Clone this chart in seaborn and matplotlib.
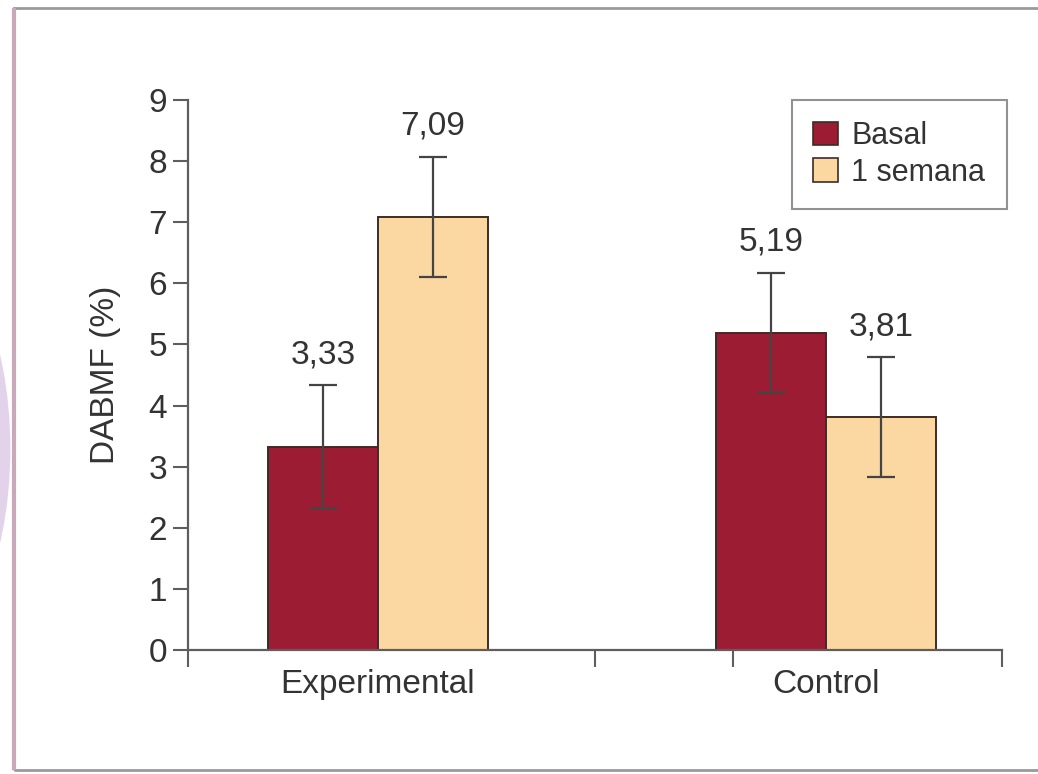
import matplotlib
matplotlib.use("Agg")
import matplotlib.pyplot as plt
from matplotlib.patches import Rectangle, Patch, Ellipse
import seaborn as sns
import pandas as pd

# Data
grupos = ["Experimental", "Control"]
periodos = ["Basal", "1 semana"]
basal = [3.33, 5.19]
semana = [7.09, 3.81]
err_basal = [1.0, 0.98]
err_semana = [0.98, 0.98]
etiquetas = {3.33: "3,33", 7.09: "7,09", 5.19: "5,19", 3.81: "3,81"}
yticks = list(range(0, 10))

df = pd.DataFrame({
    "grupo": grupos * 2,
    "periodo": [periodos[0]] * 2 + [periodos[1]] * 2,
    "valor": basal + semana,
    "err": err_basal + err_semana,
})

sns.set_theme(style="white")
FONT = ["Liberation Sans", "DejaVu Sans"]
plt.rcParams["font.family"] = FONT

TEXT = "#333333"
AXC = "#5e5e5e"
colores = ["#9c1d33", "#fbd8a2"]
borde = "#3d2c26"
FS = 24

fig = plt.figure(figsize=(10.38, 7.74), dpi=100)
fig.patch.set_facecolor("white")
ax = fig.add_axes([0.1811, 0.1602, 0.7842, 0.7106])

sns.barplot(data=df, x="grupo", y="valor", hue="periodo", order=grupos,
            hue_order=periodos, palette=colores, width=0.49, errorbar=None,
            edgecolor=borde, linewidth=1.4, saturation=1, ax=ax)

# Error bars and value labels, placed from each bar patch
bars = [p for p in ax.patches if p.get_height() > 0][:4]
for p in bars:
    h = p.get_height()
    xc = p.get_x() + p.get_width() / 2
    e = float(df.loc[(df["valor"] - h).abs() < 1e-9, "err"].iloc[0])
    ax.errorbar(xc, h, yerr=e, fmt="none", ecolor="#444444", elinewidth=1.6,
                capsize=10, capthick=1.6, zorder=5)
    ax.annotate(etiquetas[round(h, 2)], (xc, h + e), xytext=(0, 11),
                textcoords="offset points", ha="center", va="bottom",
                fontsize=FS, color=TEXT, family=FONT)

ax.set_ylim(0, 9)
ax.set_xlim(-0.424, 1.393)
ax.set_yticks(yticks)
ax.set_yticklabels([str(t) for t in yticks], fontsize=FS, color=TEXT)
ax.set_xticks(range(len(grupos)))
ax.set_xticklabels(grupos, fontsize=FS, color=TEXT)
ax.tick_params(axis="x", which="major", bottom=True, length=0, pad=14)
x0, x1 = ax.get_xlim()
ax.set_xticks([x0, (x0 + x1) / 2, 0.792, x1], minor=True)
ax.tick_params(axis="x", which="minor", bottom=True, length=12, width=1.5,
               color=AXC, direction="out")
ax.tick_params(axis="y", length=11, width=1.5, color=AXC, pad=4, left=True)
ax.set_xlabel("")
ax.set_ylabel("DABMF (%)", fontsize=FS, color=TEXT, labelpad=20)

for s in ["top", "right"]:
    ax.spines[s].set_visible(False)
for s in ["left", "bottom"]:
    ax.spines[s].set_color(AXC)
    ax.spines[s].set_linewidth(1.6)

# Legend
handles = [Patch(facecolor=c, edgecolor=borde, linewidth=1.2) for c in colores]
leg = ax.legend(handles, periodos, loc="upper right",
                bbox_to_anchor=(1.006, 1.0), fontsize=22, frameon=True,
                fancybox=False, handlelength=0.8, handleheight=0.8,
                handletextpad=0.45, borderpad=0.7, labelspacing=0.2,
                borderaxespad=0)
leg._legend_box.sep = 0
leg.get_frame().set_edgecolor("#777777")
leg.get_frame().set_linewidth(1.5)
for t in leg.get_texts():
    t.set_color(TEXT)

# Page frame and faint watermark at the left edge
fig.add_artist(Ellipse((-0.09, 0.42), 0.2, 0.56, transform=fig.transFigure,
                       facecolor="#e3d3ea", edgecolor="none", zorder=0))
fig.add_artist(Rectangle((0.0135, 0.005), 1.0, 0.9845, transform=fig.transFigure,
                         facecolor="none", edgecolor="#9a9a9a", linewidth=2.0))
fig.add_artist(Rectangle((0.0135, 0.005), 0.0, 0.9845, transform=fig.transFigure,
                         facecolor="none", edgecolor="#c9a9b9", linewidth=3.0))

fig.savefig("out.png", dpi=100)
